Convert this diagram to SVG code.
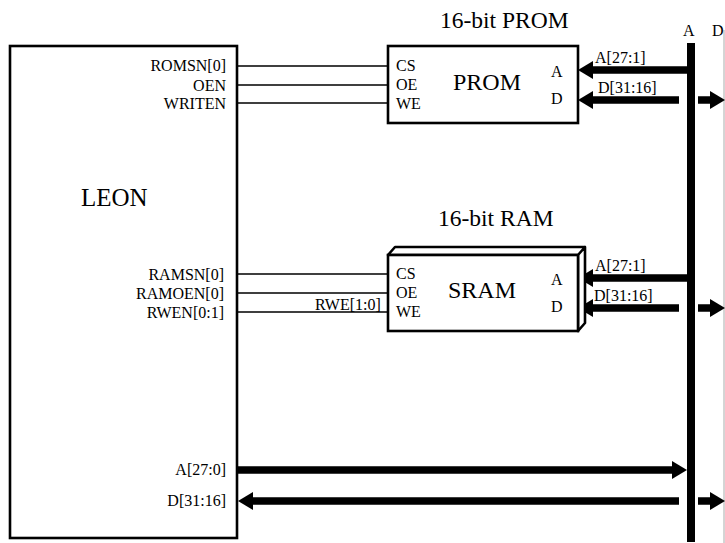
<svg xmlns="http://www.w3.org/2000/svg" width="725" height="543" viewBox="0 0 725 543">
<style>
text{font-family:"Liberation Serif","Times New Roman",serif;fill:#000}
.s{font-size:16px}
.m{font-size:16px}
.l{font-size:24px}
.t{font-size:23.5px}
.e{text-anchor:end}
.box{fill:#fff;stroke:#000;stroke-width:2.6}
.wire{stroke:#000;stroke-width:1.3;fill:none}
.bus{stroke:#000;stroke-width:7.5;fill:none}
</style>
<defs>
<polygon id="hl" points="0,0 15,-9 15,9" fill="#000"/>
<polygon id="hr" points="0,0 -15,-9 -15,9" fill="#000"/>
</defs>
<g id="connectors">
<path class="wire" d="M238 66H388M238 85H388M238 103H388M238 274H388M238 293H388M238 312H388"/>
<path d="M724 30V543" stroke="#aaa" stroke-width="1" fill="none"/>
<path d="M691 43V542" stroke="#000" stroke-width="8" fill="none"/>
<path class="bus" d="M592 70H691M592 100H679M698 100H714M592 278H691M592 308H679M698 308H714M238 470H672M252 501H679M698 501H714"/>
<use href="#hl" x="578" y="70"/><use href="#hl" x="578" y="100"/>
<use href="#hl" x="578" y="278"/><use href="#hl" x="578" y="308"/>
<use href="#hl" x="238" y="501"/>
<use href="#hr" x="687" y="470"/>
<use href="#hr" x="725" y="100"/><use href="#hr" x="725" y="308"/><use href="#hr" x="725" y="501"/>
</g>
<g id="leon">
<rect class="box" x="10" y="46" width="227" height="492"/>
<text class="l" x="81" y="206" style="font-size:25px">LEON</text>
<text class="s e" x="226" y="71">ROMSN[0]</text>
<text class="s e" x="226" y="91">OEN</text>
<text class="s e" x="226" y="109">WRITEN</text>
<text class="s e" x="224" y="280">RAMSN[0]</text>
<text class="s e" x="224" y="299">RAMOEN[0]</text>
<text class="s e" x="224" y="318">RWEN[0:1]</text>
<text class="s e" x="226" y="475">A[27:0]</text>
<text class="s e" x="226" y="506">D[31:16]</text>
</g>
<g id="prom">
<rect class="box" x="388" y="46" width="190" height="77"/>
<text class="t" x="440" y="28">16-bit PROM</text>
<text class="m" x="396" y="71">CS</text>
<text class="m" x="396" y="90">OE</text>
<text class="m" x="396" y="109">WE</text>
<text class="l" x="453" y="90">PROM</text>
<text class="m" x="551" y="77">A</text>
<text class="m" x="551" y="104">D</text>
</g>
<g id="sram">
<path class="box" d="M388 255L395 247H585L578 255ZM578 255L585 247V323L578 331Z" stroke-linejoin="round"/>
<rect class="box" x="388" y="255" width="190" height="76"/>
<text class="t" x="438" y="226">16-bit RAM</text>
<text class="m" x="396" y="279">CS</text>
<text class="m" x="396" y="298">OE</text>
<text class="m" x="396" y="317">WE</text>
<text class="l" x="448" y="298">SRAM</text>
<text class="m" x="551" y="285">A</text>
<text class="m" x="551" y="312">D</text>
</g>
<g id="labels">
<text class="s" x="315" y="310">RWE[1:0]</text>
<text class="s" x="595" y="63">A[27:1]</text>
<text class="s" x="598" y="93">D[31:16]</text>
<text class="s" x="595" y="271">A[27:1]</text>
<text class="s" x="594" y="301">D[31:16]</text>
<text class="s" x="683" y="36">A</text>
<text class="s" x="712" y="36">D</text>
</g>
</svg>
